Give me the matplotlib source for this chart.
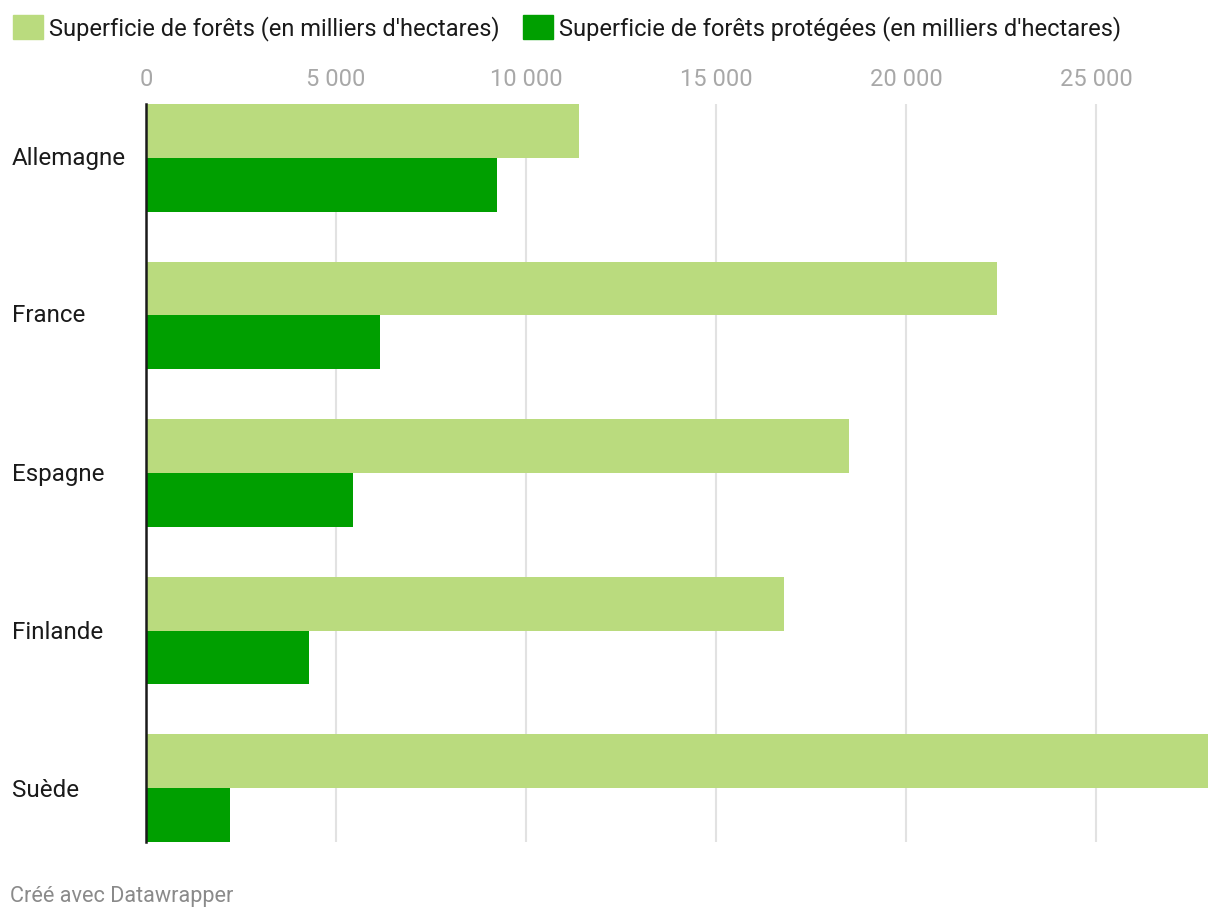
import matplotlib.pyplot as plt
from matplotlib.patches import Patch
from matplotlib.ticker import FuncFormatter
import numpy as np

plt.rcParams['font.family'] = ['Roboto', 'DejaVu Sans']

pays = ['Allemagne', 'France', 'Espagne', 'Finlande', 'Suède']
forets = [11400, 22400, 18500, 16800, 27950]
protegees = [9250, 6150, 5450, 4300, 2200]
serie1 = "Superficie de forêts (en milliers d'hectares)"
serie2 = "Superficie de forêts protégées (en milliers d'hectares)"

clair = '#badb7e'
fonce = '#009f00'

W, H = 1220, 922
fig = plt.figure(figsize=(W / 100, H / 100), dpi=100)
ax = fig.add_axes([146 / W, 1 - 842 / H, (1208 - 146) / W, (842 - 104) / H])

h = 54 / 158
y = np.arange(len(pays))
ax.barh(y - h / 2, forets, height=h, color=clair, zorder=2)
ax.barh(y + h / 2, protegees, height=h, color=fonce, zorder=2)

ax.set_xlim(0, 27950)
ax.set_ylim(len(pays) - 1 + h, -h)
ax.set_xticks([0, 5000, 10000, 15000, 20000, 25000])
ax.xaxis.set_major_formatter(FuncFormatter(lambda v, p: f'{int(v):,}'.replace(',', ' ')))
ax.xaxis.tick_top()
ax.tick_params(axis='x', length=0, labelsize=17, labelcolor='#a8a8a8', pad=9)
ax.grid(axis='x', color='#e2e2e2', linewidth=1.5, zorder=0)
ax.set_yticks([])
for s in ['top', 'right', 'bottom']:
    ax.spines[s].set_visible(False)
ax.spines['left'].set_color('#1a1a1a')
ax.spines['left'].set_linewidth(1.8)
ax.spines['left'].set_zorder(3)

# noms des pays à gauche
for i, p in enumerate(pays):
    fig.text(12 / W, 1 - (158 + 158 * i) / H, p, fontsize=17.4, color='#1a1a1a',
             va='center', ha='left')

handles = [Patch(color=clair, label=serie1), Patch(color=fonce, label=serie2)]
fig.legend(handles=handles, loc='upper left', bbox_to_anchor=(4 / W, 1 - 6 / H), ncol=2,
           frameon=False, fontsize=17, handlelength=1.25, handleheight=1.15,
           handletextpad=0.25, columnspacing=1.0, borderaxespad=0, labelcolor='#1a1a1a')

fig.text(10 / W, 1 - 896 / H, 'Créé avec Datawrapper', fontsize=15.6, color='#8a8a8a',
         va='center', ha='left')

fig.savefig('out.png', dpi=100)
